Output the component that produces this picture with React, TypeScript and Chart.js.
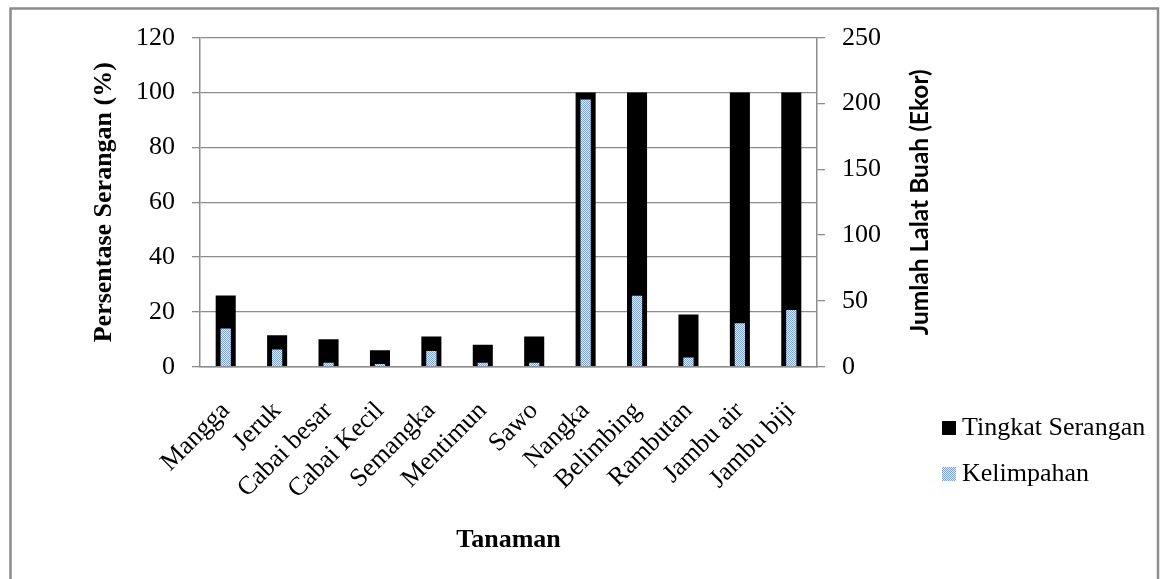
import React, { useEffect, useRef } from 'react';
import { Chart, registerables } from 'chart.js';

Chart.register(...registerables);

// ---- data ----
const categories = [
  'Mangga', 'Jeruk', 'Cabai besar', 'Cabai Kecil', 'Semangka', 'Mentimun',
  'Sawo', 'Nangka', 'Belimbing', 'Rambutan', 'Jambu air', 'Jambu biji',
];
const tingkatSerangan = [26, 11.5, 10, 6, 11, 8, 11, 100, 100, 19, 100, 100];
const kelimpahan = [29, 13, 3, 2, 12, 3, 3, 203, 54, 7, 33, 43];
const leftTicks = [0, 20, 40, 60, 80, 100, 120];
const rightTicks = [0, 50, 100, 150, 200, 250];
const seriesNames = ['Tingkat Serangan', 'Kelimpahan'];
const leftTitle = 'Persentase Serangan (%)';
const rightTitle = 'Jumlah Lalat Buah (Ekor)';
const bottomTitle = 'Tanaman';

const SERIF = '"Liberation Serif", "Times New Roman", serif';
const SANS = 'Lato, "Liberation Sans", sans-serif';
const GRID = '#8c8c8c';

function makePattern(): CanvasPattern | string {
  const c = document.createElement('canvas');
  c.width = 4;
  c.height = 4;
  const g = c.getContext('2d');
  if (!g) return '#a7c1e7';
  g.fillStyle = '#e2eaf7';
  g.fillRect(0, 0, 4, 4);
  g.fillStyle = '#80a4da';
  for (let y = 0; y < 4; y++) {
    for (let x = 0; x < 4; x++) {
      if ((x + y) % 2 === 0) g.fillRect(x, y, 1, 1);
    }
  }
  return g.createPattern(c, 'repeat') || '#a7c1e7';
}

const decorPlugin = {
  id: 'decor',
  afterDraw(chart: any) {
    const ctx: CanvasRenderingContext2D = chart.ctx;
    const ca = chart.chartArea;
    ctx.save();
    // outer frame
    ctx.strokeStyle = GRID;
    ctx.lineWidth = 2.5;
    ctx.strokeRect(10.5, 8.5, 1147.5, 600);

    ctx.fillStyle = '#000';
    ctx.textAlign = 'center';
    ctx.textBaseline = 'middle';
    const midY = (ca.top + ca.bottom) / 2;

    // left title
    ctx.save();
    ctx.translate(104, midY);
    ctx.rotate(-Math.PI / 2);
    ctx.font = `bold 26px ${SERIF}`;
    ctx.fillText(leftTitle, 0, 0);
    ctx.restore();

    // right title
    ctx.save();
    ctx.translate(920, midY);
    ctx.rotate(-Math.PI / 2);
    ctx.font = `bold 24.5px ${SANS}`;
    ctx.fillText(rightTitle, 0, 0);
    ctx.restore();

    // bottom title
    ctx.font = `bold 26px ${SERIF}`;
    ctx.textBaseline = 'alphabetic';
    ctx.fillText(bottomTitle, (ca.left + ca.right) / 2, 547);

    // legend
    const ds = chart.data.datasets;
    const rows = [435, 481];
    ctx.textAlign = 'left';
    ctx.font = `26px ${SERIF}`;
    ds.forEach((d: any, i: number) => {
      const base = rows[i];
      ctx.fillStyle = d.backgroundColor;
      ctx.fillRect(942, base - 14, 14, 14);
      ctx.fillStyle = '#000';
      ctx.fillText(d.label, 962, base);
    });
    ctx.restore();
  },
};

export default function App() {
  const ref = useRef<HTMLCanvasElement | null>(null);

  useEffect(() => {
    document.body.style.margin = '0';
    const canvas = ref.current;
    if (!canvas) return;
    const pattern = makePattern();
    const chart = new Chart(canvas, {
      type: 'bar',
      data: {
        labels: categories,
        datasets: [
          {
            label: seriesNames[0],
            data: tingkatSerangan,
            backgroundColor: '#000000',
            yAxisID: 'y',
            grouped: false,
            order: 2,
            categoryPercentage: 1,
            barPercentage: 0.39,
          } as any,
          {
            label: seriesNames[1],
            data: kelimpahan,
            backgroundColor: pattern as any,
            yAxisID: 'y1',
            grouped: false,
            order: 1,
            categoryPercentage: 1,
            barPercentage: 0.2,
          } as any,
        ],
      },
      options: {
        animation: false,
        responsive: false,
        devicePixelRatio: 1,
        layout: { padding: { top: 37.7, left: 0, right: 0, bottom: 0 } },
        plugins: {
          legend: { display: false },
          tooltip: { enabled: false },
          title: { display: false },
        },
        scales: {
          x: {
            type: 'category',
            position: 'bottom',
            grid: { display: false, drawTicks: false },
            border: { display: true, color: GRID, width: 1.5 },
            ticks: {
              autoSkip: false,
              maxRotation: 45,
              minRotation: 45,
              padding: 29,
              color: '#000',
              font: { family: SERIF, size: 26 },
            },
            afterFit: (s: any) => {
              s.height = 579 - 366.7;
              s.paddingLeft = 0;
              s.paddingRight = 0;
            },
          },
          y: {
            type: 'linear',
            position: 'left',
            min: leftTicks[0],
            max: leftTicks[leftTicks.length - 1],
            ticks: {
              stepSize: leftTicks[1] - leftTicks[0],
              padding: 17,
              color: '#000',
              font: { family: SERIF, size: 26 },
            },
            grid: { color: GRID, lineWidth: 1.3, tickLength: 8, drawTicks: true },
            border: { display: true, color: GRID, width: 1.5 },
            afterFit: (s: any) => {
              s.width = 200;
              s.paddingTop = 0;
              s.paddingBottom = 0;
            },
          },
          y1: {
            type: 'linear',
            position: 'right',
            min: rightTicks[0],
            max: rightTicks[rightTicks.length - 1],
            ticks: {
              stepSize: rightTicks[1] - rightTicks[0],
              padding: 17,
              color: '#000',
              font: { family: SERIF, size: 26 },
            },
            grid: { drawOnChartArea: false, color: GRID, lineWidth: 1.3, tickLength: 8, drawTicks: true },
            border: { display: true, color: GRID, width: 1.5 },
            afterFit: (s: any) => {
              s.width = 1162 - 817;
              s.paddingTop = 0;
              s.paddingBottom = 0;
            },
          },
        },
      } as any,
      plugins: [decorPlugin],
    });
    return () => chart.destroy();
  }, []);

  return (
    <div style={{ position: 'fixed', left: 0, top: 0, width: 1162, height: 579, background: '#fff' }}>
      <canvas ref={ref} width={1162} height={579} style={{ width: 1162, height: 579, display: 'block' }} />
    </div>
  );
}
